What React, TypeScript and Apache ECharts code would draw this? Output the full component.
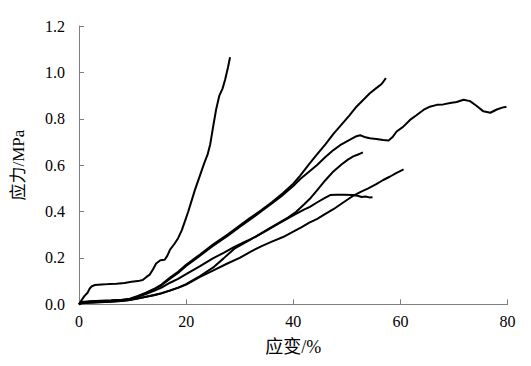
import React, { useEffect, useRef } from "react";
import * as echarts from "echarts";

const xTicks = [0, 20, 40, 60, 80];
const yTicks = [0, 0.2, 0.4, 0.6, 0.8, 1.0, 1.2];

const seriesA: number[][] = [[0,0],[0.4,0.015],[1.0,0.035],[1.6,0.05],[2.0,0.068],[2.4,0.078],[3.0,0.083],[4.2,0.085],[5.5,0.087],[7,0.089],[8.5,0.092],[9.8,0.097],[11,0.1],[11.9,0.105],[12.6,0.118],[13.2,0.128],[13.8,0.15],[14.4,0.176],[15.2,0.19],[16,0.192],[16.5,0.21],[17,0.236],[17.8,0.26],[18.5,0.285],[19.2,0.32],[19.8,0.36],[20.4,0.4],[21,0.445],[21.6,0.49],[22.2,0.53],[22.8,0.57],[23.4,0.61],[24,0.645],[24.5,0.69],[25,0.76],[25.6,0.84],[26.2,0.9],[26.8,0.93],[27.3,0.97],[27.8,1.02],[28.2,1.065]];

const seriesB: number[][] = [[0,0],[0.5,0.01],[2,0.013],[4,0.015],[6,0.017],[8,0.02],[9.5,0.024],[11,0.036],[12.5,0.05],[14,0.066],[15.4,0.085],[17,0.115],[18.5,0.14],[20,0.17],[22.6,0.215],[25,0.258],[27.8,0.302],[30,0.34],[31.9,0.372],[34,0.405],[36,0.44],[38.1,0.48],[40,0.52],[41.3,0.555],[43,0.605],[44.4,0.645],[46,0.69],[47.5,0.735],[49,0.775],[50.5,0.815],[51.8,0.852],[53,0.88],[54.3,0.91],[55.5,0.932],[56.5,0.95],[57.3,0.975]];

const seriesC: number[][] = [[0,0],[0.5,0.008],[2,0.011],[4,0.013],[6,0.015],[8,0.018],[9.5,0.022],[11,0.034],[12.5,0.048],[14,0.064],[15.4,0.082],[17,0.11],[18.5,0.135],[20,0.165],[22.6,0.21],[25,0.252],[27.8,0.296],[30,0.334],[31.9,0.365],[34,0.4],[36,0.435],[38.1,0.472],[40,0.51],[41.3,0.54],[43,0.573],[44.4,0.6],[46,0.635],[47.5,0.665],[49,0.69],[50.6,0.71],[51.8,0.725],[52.5,0.729],[53.5,0.72],[54.3,0.716],[55.5,0.713],[56.8,0.708],[57.8,0.706],[58.5,0.72],[59.3,0.745],[60.5,0.765],[61.8,0.795],[63,0.815],[64.3,0.838],[65.5,0.852],[66.8,0.86],[68,0.862],[69.3,0.868],[70.5,0.872],[71.8,0.882],[73,0.876],[74.2,0.856],[75.5,0.832],[76.8,0.826],[78,0.84],[79,0.848],[79.8,0.852]];

const seriesD: number[][] = [[0,0],[0.5,0.006],[2,0.008],[4,0.01],[6,0.012],[8,0.015],[9.5,0.019],[11,0.026],[12.5,0.033],[14,0.04],[15.4,0.048],[17,0.06],[18.5,0.072],[20,0.087],[22.6,0.122],[25,0.158],[27,0.198],[29,0.24],[31.5,0.272],[33,0.292],[35,0.32],[37,0.347],[39,0.374],[40.5,0.398],[42,0.43],[43.1,0.455],[44.4,0.49],[46,0.535],[47.5,0.573],[49,0.603],[50.2,0.624],[51.2,0.638],[52,0.645],[52.5,0.65],[53,0.655]];

const seriesE: number[][] = [[0,0],[0.5,0.007],[2,0.01],[4,0.012],[6,0.014],[8,0.017],[9.5,0.021],[11,0.032],[12.5,0.044],[14,0.058],[15.4,0.072],[17,0.093],[18.5,0.11],[20,0.13],[22.6,0.165],[25,0.198],[27,0.222],[29,0.248],[31.5,0.275],[33,0.292],[35,0.318],[37,0.345],[39,0.37],[40.5,0.39],[42,0.408],[43.1,0.42],[44.5,0.44],[46,0.46],[46.9,0.471],[48,0.472],[49.5,0.472],[51.2,0.471],[52,0.468],[52.8,0.463],[53.5,0.465],[54.2,0.461],[54.8,0.462]];

const seriesF: number[][] = [[0,0],[0.5,0.005],[2,0.007],[4,0.009],[6,0.011],[8,0.014],[9.5,0.018],[11,0.025],[12.5,0.032],[14,0.039],[15.4,0.047],[17,0.059],[18.5,0.071],[20,0.085],[22.6,0.118],[25,0.145],[27.8,0.177],[30,0.2],[31.9,0.225],[34,0.25],[36,0.27],[38.1,0.29],[40,0.313],[41.5,0.332],[43,0.352],[44.4,0.367],[46,0.39],[47.5,0.41],[49.4,0.44],[51.2,0.468],[52.5,0.484],[54,0.5],[55.5,0.518],[56.8,0.536],[58,0.55],[59.3,0.567],[60.6,0.582]];

const allSeries = [seriesA, seriesB, seriesC, seriesD, seriesE, seriesF];

const serif = "Times New Roman, Liberation Serif, Noto Sans CJK SC, serif";

export default function App() {
  const ref = useRef<HTMLDivElement>(null);
  useEffect(() => {
    if (!ref.current) return;
    const chart = echarts.init(ref.current, undefined, { renderer: "svg" });
    chart.setOption({
      animation: false,
      backgroundColor: "#ffffff",
      textStyle: { fontFamily: serif, fontSize: 16 },
      grid: { left: 79, right: 23.5, top: 26, bottom: 61.7, containLabel: false },
      xAxis: {
        type: "value",
        min: xTicks[0],
        max: xTicks[xTicks.length - 1],
        interval: 20,
        name: "应变/%",
        nameLocation: "middle",
        nameGap: 34,
        nameTextStyle: { fontFamily: serif, fontSize: 18, color: "#000" },
        axisLine: { lineStyle: { color: "#7f7f7f", width: 1 } },
        axisTick: { inside: true, length: 5, lineStyle: { color: "#7f7f7f" } },
        axisLabel: { show: true, fontFamily: serif, fontSize: 16, color: "#000", margin: 9 },
        splitLine: { show: false },
      },
      yAxis: {
        type: "value",
        min: yTicks[0],
        max: yTicks[yTicks.length - 1],
        interval: 0.2,
        name: "应力/MPa",
        nameLocation: "middle",
        nameGap: 52,
        nameRotate: 90,
        nameTextStyle: { fontFamily: serif, fontSize: 17, color: "#000" },
        axisLine: { show: true, lineStyle: { color: "#7f7f7f", width: 1 } },
        axisTick: { show: true, inside: true, length: 5, lineStyle: { color: "#7f7f7f" } },
        axisLabel: {
          show: true,
          fontFamily: serif,
          fontSize: 16,
          color: "#000",
          margin: 14,
          formatter: (v: number) => v.toFixed(1),
        },
        splitLine: { show: false },
      },
      series: allSeries.map((d) => ({
        type: "line",
        data: d,
        showSymbol: false,
        symbol: "none",
        lineStyle: { color: "#000", width: 2 },
        clip: false,
      })),
    });
    return () => chart.dispose();
  }, []);
  return (
    <div
      ref={ref}
      style={{ position: "fixed", left: 0, top: 0, width: 531, height: 366, background: "#fff" }}
    />
  );
}
